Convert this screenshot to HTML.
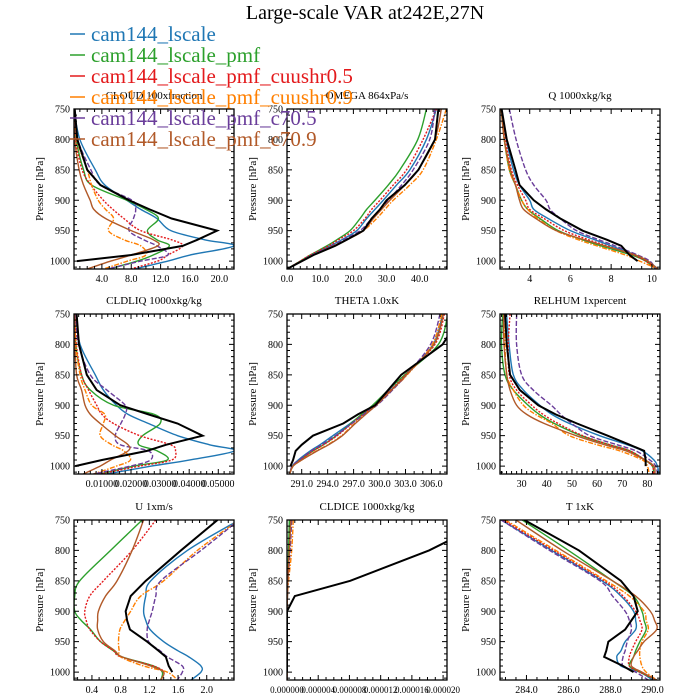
<!DOCTYPE html>
<html><head><meta charset="utf-8"><style>
html,body{margin:0;padding:0;background:#fff;}
svg{display:block;font-family:"Liberation Serif",serif;}
</style></head><body>
<svg id="chart" width="700" height="700" viewBox="0 0 700 700">
<text x="365" y="19" font-size="20" text-anchor="middle">Large-scale VAR at242E,27N</text>
</svg>
<script>
const P = [750,800,850,875,900,915,930,950,965,975,990,1000,1013];
const seriesNames = ["cam144_lscale","cam144_lscale_pmf","cam144_lscale_pmf_cuushr0.5","cam144_lscale_pmf_cuushr0.9","cam144_lscale_pmf_c70.5","cam144_lscale_pmf_c70.9"];

const CLOUD_obs=[0.3,0.65,2.0,3.8,7.7,10.5,13.5,19.7,17,15,8,0.6,null];
const CLOUD_s1=[0.2,1.0,3.1,4.4,7.4,9.3,11.5,13.4,18,22,16,13,8.4];
const CLOUD_s2=[0.2,0.5,1.5,2.6,7.4,10,11.7,10.2,11.5,13.2,11,8.8,5];
const CLOUD_s3=[0.2,0.4,1.3,2.5,4.2,5.5,7,9.3,13.5,15,13,11.6,7.9];
const CLOUD_s4=[0.2,0.6,2.0,2.6,3.5,4.5,5.6,4.9,7,9.3,10,7.5,4.2];
const CLOUD_s5=[0.2,0.7,2.5,3.8,8.1,8.6,8.3,7.7,9.7,11.5,13,9.3,4.7];
const CLOUD_s6=[0.2,0.3,0.9,1.5,2.4,2.9,4.5,8.0,11,11.6,8,5.2,2.0];

const OMEGA_obs=[45.6,44.6,39.6,35.5,30,28,25.5,23,18,14.5,8,4.5,0];
const OMEGA_s1=[45,42,37,33,29,26.5,24,21,16.5,13,7.5,4.2,0];
const OMEGA_s2=[42,39.4,34,30.5,26.5,24,22,19,15,12,7,4,0];
const OMEGA_s3=[45,41,36,32,28,25.5,23.5,20,15.5,12.5,7,4,0];
const OMEGA_s4=[48,45,41,37,32,29.5,27,23,18,14.5,8,4.5,0];
const OMEGA_s5=[44.5,43,38,34.5,30.5,28,25.5,22,17,13.5,7.5,4.3,0];
const OMEGA_s6=[46.5,44.5,39.5,35.5,31,28.5,26,23,18,14,8,4.5,0];

const Q_obs=[2.62,2.87,3.3,3.5,4.2,4.8,5.5,6.6,7.8,8.5,8.9,9.3,null];
const Q_s1=[2.6,2.85,3.2,3.5,4.0,4.2,4.9,6.0,7.2,8.0,9.2,9.8,10.3];
const Q_s2=[2.6,2.75,3.0,3.3,3.6,3.9,4.5,5.4,6.6,7.5,9.0,9.7,10.2];
const Q_s3=[2.6,2.8,3.1,3.4,3.8,4.0,4.7,5.7,6.9,7.8,9.1,9.7,10.2];
const Q_s4=[2.6,2.75,3.0,3.3,3.6,3.9,4.4,5.3,6.4,7.3,8.7,9.4,10.3];
const Q_s5=[3.0,3.33,3.8,4.2,4.8,5.0,5.5,6.3,7.4,8.2,9.3,9.9,10.2];
const Q_s6=[2.6,2.75,3.05,3.3,3.5,3.7,4.3,5.3,6.7,7.7,9.2,9.8,10.3];

const CLDLIQ_obs=[.0013,.0021,.0048,.0082,.0163,.026,.036,.0446,.032,.0255,.010,.0008,null];
const CLDLIQ_s1=[.001,.0025,.0077,.0105,.015,.019,.026,.036,.047,.0555,.040,.027,.0117];
const CLDLIQ_s2=[.0008,.001,.003,.006,.014,.028,.030,.024,.0227,.029,.0325,.021,.0094];
const CLDLIQ_s3=[.0008,.0012,.003,.0054,.0082,.010,.014,.023,.0336,.0353,.034,.023,.0094];
const CLDLIQ_s4=[.0008,.001,.0025,.0042,.0065,.011,.0105,.0094,.0134,.0175,.0198,.015,.0071];
const CLDLIQ_s5=[.001,.002,.006,.0117,.018,.018,.0165,.0146,.0163,.026,.0267,.0198,.0071];
const CLDLIQ_s6=[.0005,.0007,.0013,.003,.0042,.006,.0094,.0146,.019,.019,.013,.0094,.0036];

const THETA_obs=[309.5,307.3,302.5,301,299.5,297.5,295.8,292.3,291,290.3,290.0,289.7,null];
const THETA_s1=[307.3,306.2,303.1,301.3,299.4,298,296.6,294.6,293.1,292,290.6,289.9,289.6];
const THETA_s2=[307.9,306.8,302.9,301,299.2,297.9,296.7,295,293.5,292.3,290.8,290,289.6];
const THETA_s3=[307.5,306.4,303,301.3,299.4,298.1,296.8,295.1,293.5,292.3,290.8,290,289.6];
const THETA_s4=[307.2,306.1,303.2,301.4,299.6,298.3,297.1,295.6,294,292.7,291,290,289.6];
const THETA_s5=[307.0,305.9,303.1,301.5,299.7,298.2,296.8,294.9,293.3,292.1,290.7,289.9,289.6];
const THETA_s6=[307.4,306.3,303.1,301.4,299.6,298.4,297.2,295.7,294.1,292.8,291,290,289.6];

const RELHUM_obs=[23.4,24.1,25.4,29.3,36.6,43.5,52,64.2,73,78.7,79.3,79.3,null];
const RELHUM_s1=[24,25,26.7,30.7,37.2,42,49,61,72,78,82.6,84,84.5];
const RELHUM_s2=[22.5,22,23.4,26.7,32.6,37,43,53.7,65,73,79,82,82.5];
const RELHUM_s3=[25.4,24.7,25.1,28,34,38.5,44.5,54.3,65,73,79,82,82.5];
const RELHUM_s4=[23.4,23.4,24.1,26.7,30.7,35.5,42,49,60,69,78,80,80.7];
const RELHUM_s5=[28,28,30,34.6,41.8,45.5,50,57,68,75.4,81,83.3,84];
const RELHUM_s6=[22.8,23,24.1,25.4,28,32,39,51.7,63,71.5,79,82.6,83];

const U_obs=[2.15,1.64,1.15,0.94,0.87,0.89,0.93,1.17,1.33,1.43,1.47,1.52,null];
const U_s1=[2.45,1.73,1.22,1.15,1.12,1.15,1.21,1.4,1.6,1.75,1.92,1.92,1.78];
const U_s2=[1.1,0.66,0.23,0.16,0.16,0.25,0.38,0.52,0.7,0.82,1.26,1.38,1.36];
const U_s3=[1.29,0.96,0.56,0.37,0.3,0.32,0.37,0.52,0.7,0.8,1.26,1.4,1.36];
const U_s4=[2.45,1.87,1.4,1.08,0.94,0.86,0.79,0.77,0.78,0.8,1.12,1.45,1.59];
const U_s5=[2.45,1.92,1.36,1.29,1.24,1.2,1.17,1.19,1.35,1.45,1.66,1.66,1.59];
const U_s6=[1.12,0.96,0.75,0.59,0.49,0.48,0.48,0.56,0.72,0.82,1.22,1.4,1.36];

const CLDICE_obs=[0.000026,0.0000182,0.0000081,0.000001,0,0,0,0,0,0,0,0,null];
const CLDICE_s1=[4e-7,3e-7,1e-7,0.5e-7,0,0,0,0,0,0,0,0,0];
const CLDICE_s2=[3e-7,2e-7,1e-7,0.5e-7,0,0,0,0,0,0,0,0,0];
const CLDICE_s3=[5e-7,3e-7,1e-7,0.5e-7,0,0,0,0,0,0,0,0,0];
const CLDICE_s4=[8e-7,6e-7,2e-7,0.5e-7,0,0,0,0,0,0,0,0,0];
const CLDICE_s5=[6e-7,4e-7,1e-7,0.5e-7,0,0,0,0,0,0,0,0,0];
const CLDICE_s6=[5e-7,3e-7,1e-7,0.5e-7,0,0,0,0,0,0,0,0,0];

const T_obs=[283.9,286.5,288.5,289.1,289.3,289.0,288.7,287.9,287.8,287.7,288.6,289.1,null];
const T_s1=[282.8,285.2,287.6,288.5,289.1,289.2,289.2,288.7,288.5,288.3,288.5,289.4,290];
const T_s2=[283.8,286,288.1,289.1,289.5,289.6,289.7,289.4,289.2,289.1,288.9,289.4,290.2];
const T_s3=[282.9,285.3,287.7,288.6,289.2,289.4,289.5,289.2,289,288.9,288.9,289.4,290.2];
const T_s4=[283,285.4,287.8,288.9,289.6,289.7,289.8,289.5,289.4,289.4,289.5,289.7,290.2];
const T_s5=[282.8,285.1,287.5,288.1,288.7,288.9,289,288.8,288.7,288.6,288.6,289.2,289.8];
const T_s6=[283.5,285.7,288.1,289.2,289.9,290.1,290.2,289.6,289.3,289.1,289,289.5,290.2];

const CLOUD_ticks=[4,8,12,16,20];
const OMEGA_ticks=[0,10,20,30,40];
const Q_ticks=[4,6,8,10];
const CLDLIQ_ticks=[0.01,0.02,0.03,0.04,0.05];
const THETA_ticks=[291,294,297,300,303,306];
const RELHUM_ticks=[30,40,50,60,70,80];
const U_ticks=[0.4,0.8,1.2,1.6,2.0];
const CLDICE_ticks=[0,0.000004,0.000008,0.000012,0.000016,0.00002];
const T_ticks=[284,286,288,290];
const P_ticks=[750,800,850,900,950,1000];

const NS="http://www.w3.org/2000/svg";
const svg=document.getElementById('chart');
const COLORS=["#1f77b4","#2ca02c","#e31a1c","#ff7f00","#6a3d9a","#b15928"];
const DASH=["","","2,1.5","5,1.5,1.5,1.5","5,2",""];
const PMIN=750,PMAX=1013;

function mk(tag,attrs,parent){const e=document.createElementNS(NS,tag);for(const k in attrs)e.setAttribute(k,attrs[k]);(parent||svg).appendChild(e);return e;}

function smoothPath(pts){
  if(pts.length<2)return "";
  let d="M"+pts[0][0].toFixed(2)+","+pts[0][1].toFixed(2);
  for(let i=0;i<pts.length-1;i++){
    const p0=pts[i-1]||pts[i],p1=pts[i],p2=pts[i+1],p3=pts[i+2]||p2;
    const c1=[p1[0]+(p2[0]-p0[0])/6,p1[1]+(p2[1]-p0[1])/6];
    const c2=[p2[0]-(p3[0]-p1[0])/6,p2[1]-(p3[1]-p1[1])/6];
    d+="C"+c1[0].toFixed(2)+","+c1[1].toFixed(2)+" "+c2[0].toFixed(2)+","+c2[1].toFixed(2)+" "+p2[0].toFixed(2)+","+p2[1].toFixed(2);
  }
  return d;
}

const panels=[
 {id:"cloud",title:"CLOUD  100xfraction",x0:74,y0:109,xmin:0.2,xmax:22.0,ticks:CLOUD_ticks,minor:1,fmt:v=>v.toFixed(1),obs:CLOUD_obs,s:[CLOUD_s1,CLOUD_s2,CLOUD_s3,CLOUD_s4,CLOUD_s5,CLOUD_s6]},
 {id:"omega",title:"OMEGA  864xPa/s",x0:287,y0:109,xmin:0,xmax:48.2,ticks:OMEGA_ticks,minor:2,fmt:v=>v.toFixed(1),obs:OMEGA_obs,s:[OMEGA_s1,OMEGA_s2,OMEGA_s3,OMEGA_s4,OMEGA_s5,OMEGA_s6]},
 {id:"q",title:"Q  1000xkg/kg",x0:500,y0:109,xmin:2.54,xmax:10.4,ticks:Q_ticks,minor:0.5,fmt:v=>String(v),obs:Q_obs,s:[Q_s1,Q_s2,Q_s3,Q_s4,Q_s5,Q_s6]},
 {id:"cldliq",title:"CLDLIQ  1000xkg/kg",x0:74,y0:314,xmin:0.0004,xmax:0.0554,ticks:CLDLIQ_ticks,minor:0.002,fmt:v=>v.toFixed(5),obs:CLDLIQ_obs,s:[CLDLIQ_s1,CLDLIQ_s2,CLDLIQ_s3,CLDLIQ_s4,CLDLIQ_s5,CLDLIQ_s6]},
 {id:"theta",title:"THETA  1.0xK",x0:287,y0:314,xmin:289.3,xmax:307.8,ticks:THETA_ticks,minor:1,fmt:v=>v.toFixed(1),obs:THETA_obs,s:[THETA_s1,THETA_s2,THETA_s3,THETA_s4,THETA_s5,THETA_s6]},
 {id:"relhum",title:"RELHUM  1xpercent",x0:500,y0:314,xmin:21.4,xmax:85,ticks:RELHUM_ticks,minor:2,fmt:v=>String(v),obs:RELHUM_obs,s:[RELHUM_s1,RELHUM_s2,RELHUM_s3,RELHUM_s4,RELHUM_s5,RELHUM_s6]},
 {id:"u",title:"U  1xm/s",x0:74,y0:520,xmin:0.15,xmax:2.38,ticks:U_ticks,minor:0.1,fmt:v=>v.toFixed(1),obs:U_obs,s:[U_s1,U_s2,U_s3,U_s4,U_s5,U_s6]},
 {id:"cldice",title:"CLDICE  1000xkg/kg",x0:287,y0:520,xmin:0,xmax:0.0000205,ticks:CLDICE_ticks,minor:0.000001,fmt:v=>v.toFixed(6),obs:CLDICE_obs,s:[CLDICE_s1,CLDICE_s2,CLDICE_s3,CLDICE_s4,CLDICE_s5,CLDICE_s6]},
 {id:"t",title:"T  1xK",x0:500,y0:520,xmin:282.74,xmax:290.36,ticks:T_ticks,minor:0.5,fmt:v=>v.toFixed(1),obs:T_obs,s:[T_s1,T_s2,T_s3,T_s4,T_s5,T_s6]}
];
const W=160,H=160;

panels.forEach(pn=>{
  const g=mk('g',{});
  
  
  const sx=v=>pn.x0+(v-pn.xmin)/(pn.xmax-pn.xmin)*W;
  const sy=p=>pn.y0+(p-PMIN)/(PMAX-PMIN)*H;
  const clipId='clip-'+pn.id;
  const cp=mk('clipPath',{id:clipId},g);
  mk('rect',{x:pn.x0,y:pn.y0,width:W,height:H},cp);
  const t=mk('text',{x:pn.x0+W/2,y:pn.y0-10,'font-size':11,'text-anchor':'middle'},g);
  t.textContent=pn.title;
  
  
  const yl=mk('text',{x:0,y:0,'font-size':11,'text-anchor':'middle',transform:'translate('+(pn.x0-31)+','+(pn.y0+H/2)+') rotate(-90)'},g);
  yl.textContent='Pressure [hPa]';
  
  
  const lines=mk('g',{'clip-path':'url(#'+clipId+')'},g);
  pn.s.forEach((arr,i)=>{
    const pts=[];arr.forEach((v,k)=>{if(v!==null)pts.push([sx(v),sy(P[k])]);});
    const path=mk('path',{d:smoothPath(pts),fill:'none',stroke:COLORS[i],'stroke-width':1.4,'stroke-dasharray':DASH[i]},lines);
    
    
  });
  const opts=[];pn.obs.forEach((v,k)=>{if(v!==null)opts.push(sx(v).toFixed(2)+','+sy(P[k]).toFixed(2));});
  const ob=mk('polyline',{points:opts.join(' '),fill:'none',stroke:'#000','stroke-width':2},lines);
  
  
  const fr=mk('rect',{x:pn.x0,y:pn.y0,width:W,height:H,fill:'none',stroke:'#000','stroke-width':1.3},g);
  
  
  let d='';
  for(let p=750;p<=1010;p+=10){const y=sy(p);const L=(p%50===0)?5:3;d+='M'+pn.x0+','+y+'h'+L+'M'+(pn.x0+W)+','+y+'h'+(-L);}
  P_ticks.forEach(p=>{
    const tl=mk('text',{x:pn.x0-4,y:sy(p)+3.5,'font-size':10,'text-anchor':'end'},g);
    tl.textContent=String(p);
    
    
  });
  const start=Math.ceil(pn.xmin/pn.minor-1e-6);
  for(let k=start;k*pn.minor<=pn.xmax+1e-12;k++){
    const v=k*pn.minor;const x=sx(v);
    const isMaj=pn.ticks.some(tv=>Math.abs(tv-v)<pn.minor*0.01);
    const L=isMaj?5:3;
    d+='M'+x+','+(pn.y0+H)+'v'+(-L)+'M'+x+','+pn.y0+'v'+L;
  }
  mk('path',{d:d,stroke:'#000','stroke-width':1,fill:'none'},g);
  pn.ticks.forEach(v=>{
    const tl=mk('text',{x:sx(v),y:pn.y0+H+13,'font-size':pn.id==='cldice'?9:10,'text-anchor':'middle'},g);
    tl.textContent=pn.fmt(v);
    
    
  });
});

const lg=mk('g',{});


seriesNames.forEach((n,i)=>{
  const y=34+i*21;
  const ln=mk('line',{x1:70,x2:85,y1:y,y2:y,stroke:COLORS[i],'stroke-width':1.5},lg);
  
  
  const tx=mk('text',{x:91,y:y+7,'font-size':21,fill:COLORS[i]},lg);
  tx.textContent=n;
  
  
});
</script>
</body></html>
